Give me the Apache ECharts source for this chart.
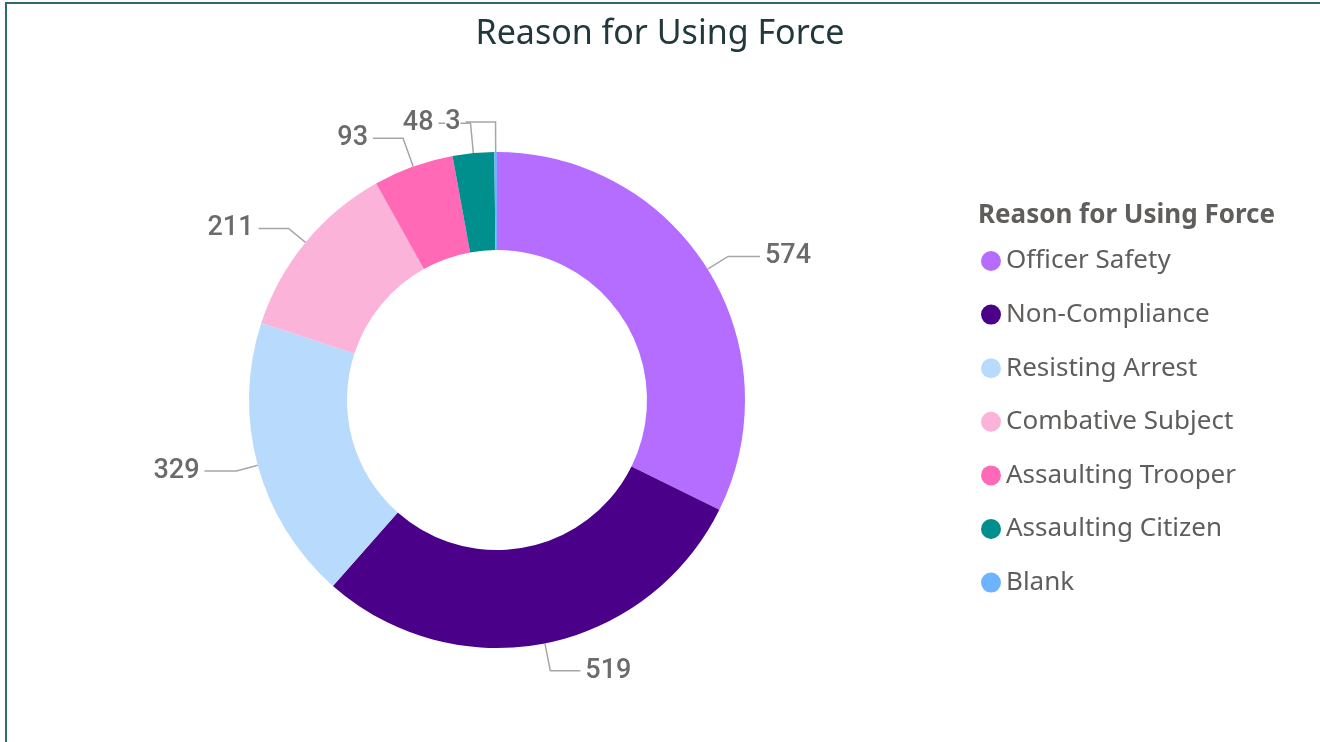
<!DOCTYPE html>
<html>
<head>
<meta charset="utf-8">
<script src="https://cdn.jsdelivr.net/npm/echarts@6/dist/echarts.min.js"></script>
<style>
  html, body { margin: 0; padding: 0; background: #fff; overflow: hidden; }
  #frame {
    position: absolute; left: 5px; top: 2px; width: 1400px; height: 800px;
    border: 2px solid #2f6a6e; box-sizing: border-box;
  }
  #chart { position: absolute; left: 0; top: 0; width: 1320px; height: 742px; }
</style>
</head>
<body>
<div id="frame"></div>
<div id="chart"></div>
<script>
const reasons = ['Officer Safety', 'Non-Compliance', 'Resisting Arrest', 'Combative Subject',
  'Assaulting Trooper', 'Assaulting Citizen', 'Blank']
const counts = [574, 519, 329, 211, 93, 48, 3]
const colors = ['#b56dff', '#4a0088', '#b8dbfd', '#fbb3d9', '#ff69b6', '#008f8c', '#6db3ff']

// the small slices at the top get their own leader lines, like the original
const lineLengths = [
  { length: 24, length2: 32 },
  { length: 28, length2: 30 },
  { length: 22, length2: 32 },
  { length: 22, length2: 30 },
  { length: 30, length2: 30 },
  { length: 30, length2: 32 },
  { length: 30, length2: 30 }
]

const chart = echarts.init(document.getElementById('chart'))

const option = {
  animation: false,
  title: [
    {
      text: 'Reason for Using Force',
      left: 'center',
      top: 12,
      textStyle: { fontFamily: 'Noto Sans', fontSize: 34, fontWeight: 'normal', color: '#21393c' }
    },
    {
      text: 'Reason for Using Force',
      left: 973,
      top: 198,
      textStyle: { fontFamily: 'Noto Sans', fontSize: 26, fontWeight: 'bold', color: '#605e5c' }
    }
  ],
  legend: {
    orient: 'vertical',
    left: 976,
    top: 243,
    icon: 'circle',
    itemWidth: 20,
    itemHeight: 20,
    itemGap: 27.6,
    textStyle: { fontFamily: 'Noto Sans', fontSize: 26, color: '#605e5c' },
    data: reasons
  },
  series: [
    {
      type: 'pie',
      center: [497, 400],
      radius: [150, 248],
      startAngle: 90,
      clockwise: true,
      avoidLabelOverlap: false,
      data: reasons.map((name, i) => ({
        name: name,
        value: counts[i],
        itemStyle: { color: colors[i] },
        labelLine: lineLengths[i],
        label: name === 'Blank' ? { backgroundColor: '#fff' } : undefined
      })),
      label: {
        show: true,
        formatter: '{c}',
        fontFamily: 'Roboto',
        fontWeight: 500,
        fontSize: 27,
        color: '#6b6b6b'
      },
      labelLine: {
        show: true,
        lineStyle: { color: '#a6a6a6', width: 1.5 }
      }
    }
  ]
}

chart.setOption(option)
</script>
</body>
</html>
